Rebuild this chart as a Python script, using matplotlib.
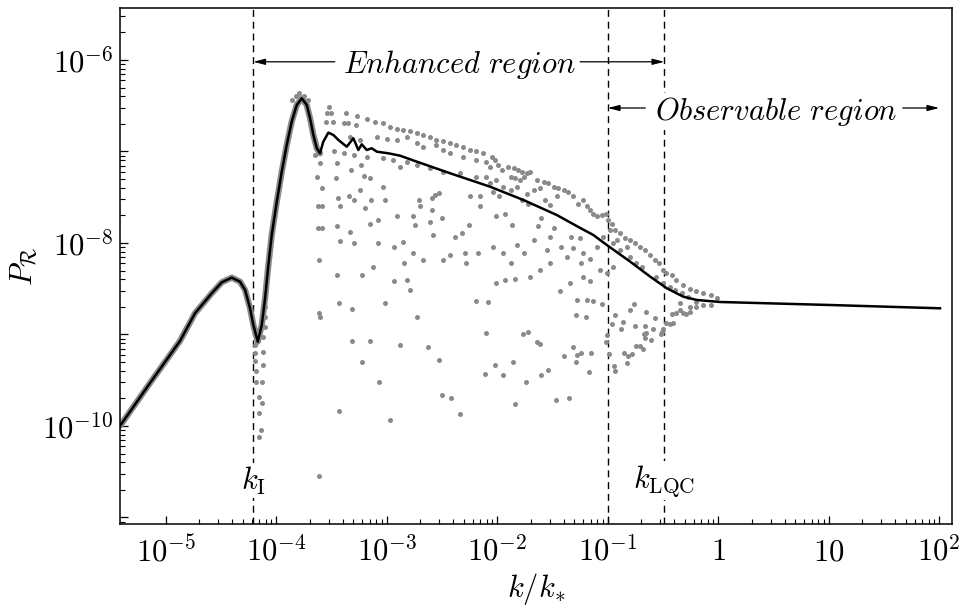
import numpy as np
import matplotlib
matplotlib.use('Agg')
import matplotlib.pyplot as plt
from matplotlib.ticker import LogLocator, FixedLocator, NullFormatter

plt.rcParams['mathtext.fontset'] = 'cm'
plt.rcParams['font.family'] = ['DejaVu Serif']

# black curve, log10(k/k*) and log10(P_R)
curve_logk = [-5.414, -5.142, -4.871, -4.735, -4.584, -4.493, -4.403, -4.328, -4.282, -4.237,
              -4.207, -4.167, -4.131, -4.101, -4.071, -4.041, -3.995, -3.950, -3.905, -3.860,
              -3.814, -3.769, -3.724, -3.694, -3.664, -3.633, -3.604, -3.574, -3.528, -3.483,
              -3.438, -3.362, -3.302, -3.257, -3.226, -3.181, -3.136, -3.090, -2.986, -2.880,
              -2.729, -2.427, -2.065, -1.764, -1.462, -1.251, -1.130, -1.009, -0.797, -0.616,
              -0.466, -0.316, -0.195, 0.016, 1.012, 2.007]
curve_logP = [-10.00, -9.530, -9.071, -8.768, -8.550, -8.430, -8.379, -8.423, -8.514, -8.714,
              -8.896, -9.079, -8.896, -8.604, -8.240, -7.913, -7.549, -7.221, -6.929, -6.674,
              -6.492, -6.419, -6.492, -6.637, -6.820, -6.965, -7.020, -6.893, -6.794, -6.820,
              -6.874, -6.948, -6.856, -6.984, -6.922, -6.984, -6.965, -7.002, -7.020, -7.046,
              -7.111, -7.238, -7.385, -7.530, -7.694, -7.835, -7.913, -8.022, -8.204, -8.368,
              -8.495, -8.587, -8.623, -8.645, -8.678, -8.714]
# the grey samples sit right on the curve up to the first dip after the peak
n_band = 27

# grey sample points (log10 k, log10 P)
pts_top = [(-3.79, -6.36), (-3.82, -6.39), (-3.75, -6.39), (-3.86, -6.44), (-3.71, -6.44),
           (-3.52, -6.51), (-3.55, -6.68), (-3.49, -6.68), (-3.54, -6.58), (-3.50, -6.58),
           (-3.37, -6.58), (-3.39, -6.69), (-3.35, -6.69), (-3.27, -6.61), (-3.28, -6.71),
           (-3.18, -6.65), (-3.11, -6.68), (-3.03, -6.69), (-2.97, -6.73), (-2.91, -6.75),
           (-2.85, -6.77), (-2.79, -6.78), (-2.73, -6.80), (-2.67, -6.82), (-2.61, -6.84),
           (-2.55, -6.87), (-2.49, -6.89), (-2.43, -6.91), (-2.37, -6.93), (-2.31, -6.95),
           (-2.25, -6.98), (-2.19, -7.00), (-2.13, -7.02)]
pts_mid = [(-3.33, -6.84), (-3.24, -6.87), (-3.09, -6.84), (-3.00, -6.86), (-2.91, -6.87),
           (-2.82, -6.84), (-2.73, -6.91), (-2.67, -6.95), (-2.55, -6.93), (-2.49, -6.98),
           (-2.43, -7.02), (-2.31, -7.06), (-2.19, -7.09), (-2.10, -7.11),
           (-3.48, -7.00), (-3.39, -7.02), (-3.30, -7.04), (-3.18, -7.06), (-3.03, -7.07),
           (-2.94, -7.09), (-2.82, -7.11), (-2.73, -7.15), (-2.61, -7.18), (-2.49, -7.22),
           (-2.34, -7.24), (-2.19, -7.28), (-2.07, -7.35)]
pts_scatter = [(-3.65, -7.04), (-3.60, -7.13), (-3.63, -7.28), (-3.59, -7.40), (-3.62, -7.60),
               (-3.59, -7.60), (-3.62, -7.84), (-3.59, -7.84), (-3.61, -8.19),
               (-3.45, -7.13), (-3.46, -7.29), (-3.44, -7.51), (-3.42, -7.60), (-3.45, -7.82),
               (-3.42, -7.98), (-3.45, -8.35),
               (-3.32, -7.20), (-3.34, -7.49), (-3.30, -7.53), (-3.33, -7.88), (-3.30, -8.00),
               (-3.23, -7.15), (-3.21, -7.27), (-3.20, -7.62), (-3.22, -8.35), (-3.24, -7.42),
               (-3.15, -7.29), (-3.15, -7.79), (-3.12, -8.26), (-3.14, -7.53),
               (-3.08, -7.75), (-3.02, -7.53), (-3.03, -7.39), (-3.08, -8.00),
               (-2.93, -8.04), (-2.91, -7.71), (-2.88, -7.17), (-2.85, -7.99), (-2.84, -8.22),
               (-2.82, -8.40), (-2.93, -8.42), (-2.79, -8.51),
               (-2.76, -7.71), (-2.74, -7.80), (-2.76, -8.11), (-2.67, -8.19), (-2.70, -7.60),
               (-2.71, -7.53),
               (-2.59, -7.51), (-2.56, -7.48), (-2.53, -7.45), (-2.59, -7.64), (-2.58, -7.91),
               (-2.61, -7.77), (-2.50, -7.73), (-2.49, -8.19),
               (-2.43, -8.13), (-2.38, -7.93), (-2.32, -7.89), (-2.26, -7.80), (-2.28, -8.22),
               (-2.25, -7.49), (-2.29, -8.11),
               (-2.16, -7.60), (-2.17, -8.11), (-2.16, -7.49), (-2.10, -7.28)]
pts_low = [(-4.10, -8.70), (-4.10, -8.81), (-4.10, -8.92), (-4.12, -9.03), (-4.19, -9.12),
           (-4.19, -9.20), (-4.12, -9.19), (-4.19, -9.29), (-4.12, -9.33), (-4.18, -9.40),
           (-4.18, -9.52), (-4.13, -9.52), (-4.16, -9.68), (-4.13, -9.75), (-4.16, -9.86),
           (-4.14, -10.04), (-4.16, -10.12),
           (-3.61, -8.76), (-3.60, -8.81), (-3.43, -8.66), (-3.31, -8.72), (-3.02, -8.66),
           (-2.73, -8.81), (-3.31, -9.07), (-3.15, -9.07), (-2.88, -9.11), (-2.63, -9.14),
           (-3.22, -9.30), (-2.53, -9.28), (-3.07, -9.52), (-2.50, -9.66), (-2.42, -9.69),
           (-3.43, -9.84), (-2.97, -9.94), (-2.34, -9.87), (-3.61, -10.55), (-2.19, -8.63),
           (-2.08, -8.64), (-2.10, -8.98), (-2.11, -9.43)]
pts_knee = [(-1.28, -8.62), (-1.19, -8.62), (-1.13, -8.63), (-1.05, -8.67), (-1.29, -8.79),
            (-1.20, -8.81), (-0.93, -8.79), (-0.76, -8.67), (-0.80, -8.73), (-0.65, -8.75),
            (-0.57, -8.82), (-0.96, -8.89), (-0.86, -8.86), (-0.88, -8.94), (-0.75, -8.91),
            (-0.66, -8.91), (-0.59, -8.94), (-0.67, -9.00), (-0.65, -8.98), (-0.66, -9.04),
            (-0.61, -9.06), (-0.74, -9.13), (-0.71, -9.13), (-0.68, -9.16), (-0.78, -9.21),
            (-0.85, -9.20), (-0.82, -9.24), (-0.83, -9.31), (-0.99, -9.21), (-1.02, -9.08),
            (-1.01, -9.01), (-0.94, -9.35), (-0.93, -9.40),
            (-1.77, -9.00), (-1.72, -8.97), (-1.64, -9.08), (-1.61, -9.10), (-1.31, -9.14),
            (-1.40, -9.24), (-1.28, -9.22), (-1.24, -9.20), (-1.15, -9.20), (-1.29, -9.30),
            (-1.17, -9.41), (-2.02, -9.33), (-1.86, -9.30), (-1.95, -9.44), (-1.74, -9.52),
            (-1.60, -9.44), (-1.54, -9.39), (-1.84, -9.76), (-1.47, -9.72), (-1.35, -9.69),
            (-0.51, -8.97), (-0.52, -8.99), (-0.50, -8.94), (-0.47, -8.88), (-0.44, -8.89),
            (-0.41, -8.88), (-0.42, -8.78), (-0.38, -8.77), (-0.35, -8.73), (-0.32, -8.77),
            (-0.29, -8.78), (-0.35, -8.66), (-0.26, -8.70), (-0.20, -8.70), (-0.14, -8.68),
            (-0.07, -8.68), (-0.26, -8.75), (-0.20, -8.65)]
pts_right_band = [(-2.05, -7.06), (-2.02, -7.09), (-2.07, -7.17), (-1.99, -7.15), (-1.96, -7.20),
                  (-1.90, -7.17), (-1.85, -7.18), (-1.81, -7.20), (-1.78, -7.22), (-1.73, -7.24),
                  (-1.70, -7.22), (-1.88, -7.28), (-1.84, -7.29), (-1.79, -7.31), (-1.76, -7.28),
                  (-2.01, -7.31), (-1.95, -7.39), (-2.04, -7.44), (-1.98, -7.49), (-1.88, -7.42),
                  (-1.82, -7.39), (-1.64, -7.31), (-1.58, -7.33), (-1.54, -7.35), (-1.49, -7.39),
                  (-1.45, -7.40), (-1.40, -7.42), (-1.36, -7.44), (-1.61, -7.40), (-1.67, -7.42),
                  (-1.73, -7.46), (-1.78, -7.53), (-1.72, -7.57), (-1.57, -7.53), (-1.52, -7.59),
                  (-1.46, -7.49), (-1.31, -7.49), (-1.27, -7.57), (-1.22, -7.53), (-1.19, -7.60),
                  (-1.16, -7.64), (-1.13, -7.68), (-1.10, -7.71), (-1.05, -7.69), (-1.02, -7.68),
                  (-1.00, -7.75), (-0.96, -7.79), (-0.93, -7.86), (-0.89, -7.89), (-0.84, -7.95),
                  (-0.80, -7.97), (-0.75, -8.00), (-0.71, -8.04), (-0.66, -8.08), (-0.62, -8.13),
                  (-0.57, -8.19), (-0.54, -8.22), (-0.50, -8.30), (-0.47, -8.33), (-0.42, -8.35),
                  (-0.38, -8.40), (-0.32, -8.46), (-0.26, -8.50), (-0.20, -8.53), (-0.14, -8.55),
                  (-0.07, -8.57), (-0.01, -8.60)]
pts_right_low = [(-2.01, -7.71), (-1.93, -7.68), (-1.87, -7.80), (-2.04, -8.04), (-1.95, -8.11),
                 (-1.82, -8.02), (-1.76, -8.11), (-1.88, -8.22), (-1.67, -7.97), (-1.63, -7.82),
                 (-1.60, -7.73), (-1.52, -7.93), (-1.49, -7.84), (-1.42, -8.04), (-1.33, -7.93),
                 (-1.25, -7.95), (-1.31, -8.06), (-1.37, -8.15), (-1.22, -8.11), (-1.16, -8.17),
                 (-1.24, -8.22), (-1.10, -8.04), (-1.04, -7.93), (-0.98, -7.86), (-0.95, -8.00),
                 (-0.92, -7.97), (-0.89, -8.08), (-0.83, -8.04), (-0.80, -8.15), (-0.74, -8.22),
                 (-0.69, -8.26), (-1.01, -8.33), (-1.07, -8.30), (-0.95, -8.26), (-1.22, -8.37),
                 (-1.16, -8.42), (-1.34, -8.44), (-1.43, -8.53), (-1.52, -8.22), (-1.55, -8.08),
                 (-2.01, -8.44), (-1.93, -8.40), (-1.84, -8.39), (-1.70, -8.37), (-1.61, -8.30),
                 (-0.56, -8.37), (-0.50, -8.44), (-0.44, -8.48), (-0.39, -8.51), (-0.33, -8.55),
                 (-0.27, -8.59)]

# characteristic scales (dashed lines)
k_I = 6.2e-5
k_obs = 0.1
k_LQC = 0.325

xticks = [1e-5, 1e-4, 1e-3, 1e-2, 1e-1, 1, 10, 1e2]
xticklabels = [r'$10^{-5}$', r'$10^{-4}$', r'$10^{-3}$', r'$10^{-2}$', r'$10^{-1}$',
               r'$1$', r'$10$', r'$10^{2}$']
yticks = [1e-11, 1e-10, 1e-9, 1e-8, 1e-7, 1e-6]
yticklabels = ['', r'$10^{-10}$', '', r'$10^{-8}$', '', r'$10^{-6}$']

# ------------------------------------------------------------
k = 10.0 ** np.array(curve_logk)
P = 10.0 ** np.array(curve_logP)
pts = np.array(pts_top + pts_mid + pts_scatter + pts_low + pts_knee
               + pts_right_band + pts_right_low)
grey = '#8a8a8a'
fs = 22

fig = plt.figure(figsize=(9.63, 6.10), dpi=100)
ax = fig.add_axes([0.1246, 0.1418, 0.8637, 0.8451])
ax.set_xscale('log')
ax.set_yscale('log')

for kv in (k_I, k_obs, k_LQC):
    ax.axvline(kv, color='k', lw=1.0, dashes=(5, 3.5), zorder=1)

ax.plot(k[:n_band], P[:n_band], color=grey, lw=4.5, solid_capstyle='round',
        solid_joinstyle='round', zorder=2)
ax.scatter(10.0 ** pts[:, 0], 10.0 ** pts[:, 1], s=13, color=grey, lw=0, zorder=2)
ax.plot(k, P, color='k', lw=1.8, solid_joinstyle='round', zorder=3)

ax.set_xlim(10 ** -5.414, 10 ** 2.113)
ax.set_ylim(10 ** -11.066, 10 ** -5.432)

ax.set_xticks(xticks, xticklabels)
ax.set_yticks(yticks, yticklabels)
# no minor x ticks left of 1e-5, as in the original
x_minor = [m * 10.0 ** e for e in range(-5, 2) for m in range(2, 10)]
ax.xaxis.set_minor_locator(FixedLocator(x_minor))
ax.yaxis.set_minor_locator(LogLocator(base=10, subs=np.arange(2, 10), numticks=30))
ax.xaxis.set_minor_formatter(NullFormatter())
ax.yaxis.set_minor_formatter(NullFormatter())
ax.tick_params(which='both', direction='in', top=False, right=False, labelsize=fs)
ax.tick_params(which='major', length=5.5, width=0.9)
ax.tick_params(which='minor', length=3.5, width=0.8)
ax.tick_params(axis='x', pad=9)
ax.tick_params(axis='y', pad=5)
for sp in ax.spines.values():
    sp.set_linewidth(1.1)

ax.set_xlabel(r'$k/k_{*}$', fontsize=fs)
ax.set_ylabel(r'$P_{\mathcal{R}}$', fontsize=fs)
ax.xaxis.set_label_coords(0.50, -0.092)
ax.yaxis.set_label_coords(-0.098, 0.50)

# region annotations
box = dict(facecolor='white', edgecolor='none', pad=1.0)
arrow = dict(arrowstyle='-|>,head_length=0.7,head_width=0.18', color='k', lw=0.9,
             shrinkA=0, shrinkB=0)
y_enh = 10 ** -6.02
y_obs = 10 ** -6.525
ax.text(10 ** -2.341, 10 ** -6.142, r'$\mathit{Enhanced\ region}$', fontsize=fs,
        ha='center', va='baseline', bbox=box, zorder=5)
ax.annotate('', xy=(k_I, y_enh), xytext=(10 ** -3.47, y_enh), arrowprops=arrow, zorder=4)
ax.annotate('', xy=(k_LQC, y_enh), xytext=(10 ** -1.25, y_enh), arrowprops=arrow, zorder=4)
ax.text(10 ** 0.528, 10 ** -6.656, r'$\mathit{Observable\ region}$', fontsize=fs,
        ha='center', va='baseline', bbox=box, zorder=5)
ax.annotate('', xy=(k_obs, y_obs), xytext=(10 ** -0.66, y_obs), arrowprops=arrow, zorder=4)
ax.annotate('', xy=(1e2, y_obs), xytext=(10 ** 1.67, y_obs), arrowprops=arrow, zorder=4)

ax.text(k_I, 10 ** -10.60, r'$k_{\rm I}$', fontsize=fs, ha='center', va='center',
        bbox=box, zorder=5)
ax.text(k_LQC, 10 ** -10.60, r'$k_{\rm LQC}$', fontsize=fs, ha='center', va='center',
        bbox=box, zorder=5)

fig.savefig('out.png', dpi=100)
